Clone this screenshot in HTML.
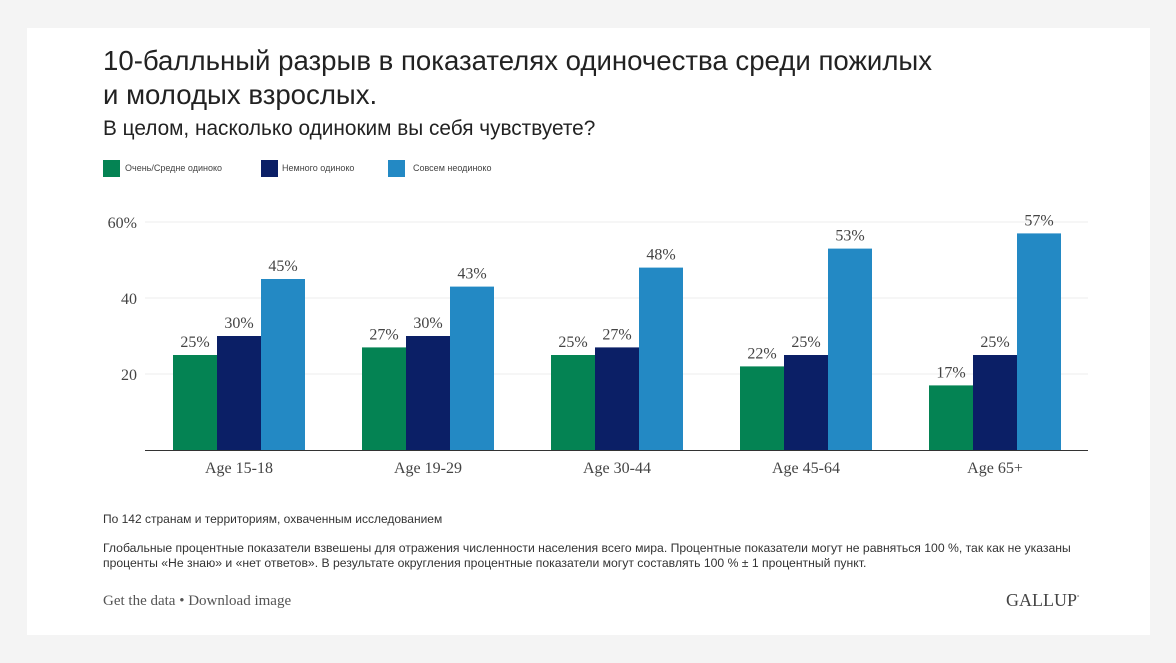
<!DOCTYPE html>
<html><head><meta charset="utf-8"><style>
body{margin:0;width:1176px;height:663px;background:#f4f4f4;position:relative;overflow:hidden;font-family:"Liberation Sans",sans-serif}
.card{position:absolute;left:27px;top:28px;width:1123px;height:607px;background:#fff}
.a{position:absolute;white-space:nowrap}
.serif{font-family:"Liberation Serif",serif}
</style></head><body>
<div class="card"></div>
<div class="a" style="left:103px;top:44px;font-size:27.6px;line-height:34px;color:#222">10-балльный разрыв в показателях одиночества среди пожилых<br>и молодых взрослых.</div>
<div class="a" style="left:103px;top:117px;font-size:20.8px;color:#222">В целом, насколько одиноким вы себя чувствуете?</div>
<div class="a" style="left:103px;top:160px;width:17px;height:17px;background:#048353"></div>
<div class="a" style="left:125px;top:163px;font-size:9px;color:#444">Очень/Средне одиноко</div>
<div class="a" style="left:261px;top:160px;width:17px;height:17px;background:#0b1f66"></div>
<div class="a" style="left:282px;top:163px;font-size:9px;color:#444">Немного одиноко</div>
<div class="a" style="left:388px;top:160px;width:17px;height:17px;background:#2389c4"></div>
<div class="a" style="left:413px;top:163px;font-size:9px;color:#444">Совсем неодиноко</div>
<svg class="a" style="left:0;top:0" width="1176" height="663">
<g stroke="#ececec" stroke-width="1"><line x1="145" x2="1088" y1="222" y2="222"/><line x1="145" x2="1088" y1="298" y2="298"/><line x1="145" x2="1088" y1="374" y2="374"/></g>
<g font-family="Liberation Serif,serif" font-size="16" fill="#444">
<text x="137" y="228" text-anchor="end">60%</text><text x="137" y="304" text-anchor="end">40</text><text x="137" y="380" text-anchor="end">20</text>
</g>
<g id="bars" font-family="Liberation Serif,serif" font-size="16" fill="#444" text-anchor="middle"></g>
<line x1="145" x2="1088" y1="450.5" y2="450.5" stroke="#333" stroke-width="1"/>
</svg>
<div class="a" style="left:103px;top:512px;font-size:12px;color:#333">По 142 странам и территориям, охваченным исследованием</div>
<div class="a" style="left:103px;top:541px;font-size:12.2px;line-height:14.5px;color:#333">Глобальные процентные показатели взвешены для отражения численности населения всего мира. Процентные показатели могут не равняться 100 %, так как не указаны<br>проценты «Не знаю» и «нет ответов». В результате округления процентные показатели могут составлять 100 % ± 1 процентный пункт.</div>
<div class="a serif" style="left:103px;top:593px;font-size:15px;color:#555">Get the data • Download image</div>
<div class="a serif" style="left:1006px;top:590px;font-size:18px;color:#444">GALLUP<sup style="font-size:6px">°</sup></div>
<script>
var d=[[25,30,45],[27,30,43],[25,27,48],[22,25,53],[17,25,57]],cats=["Age 15-18","Age 19-29","Age 30-44","Age 45-64","Age 65+"],cols=["#048353","#0b1f66","#2389c4"],s="";
d.forEach(function(g,i){var x0=173+189*i;g.forEach(function(v,j){var x=x0+44*j,y=450-v*3.8;s+='<rect x="'+x+'" y="'+y+'" width="44" height="'+(v*3.8)+'" fill="'+cols[j]+'"/><text x="'+(x+22)+'" y="'+(y-8)+'">'+v+'%</text>';});s+='<text x="'+(x0+66)+'" y="473">'+cats[i]+'</text>';});
document.getElementById("bars").innerHTML=s;
</script>
</body></html>
